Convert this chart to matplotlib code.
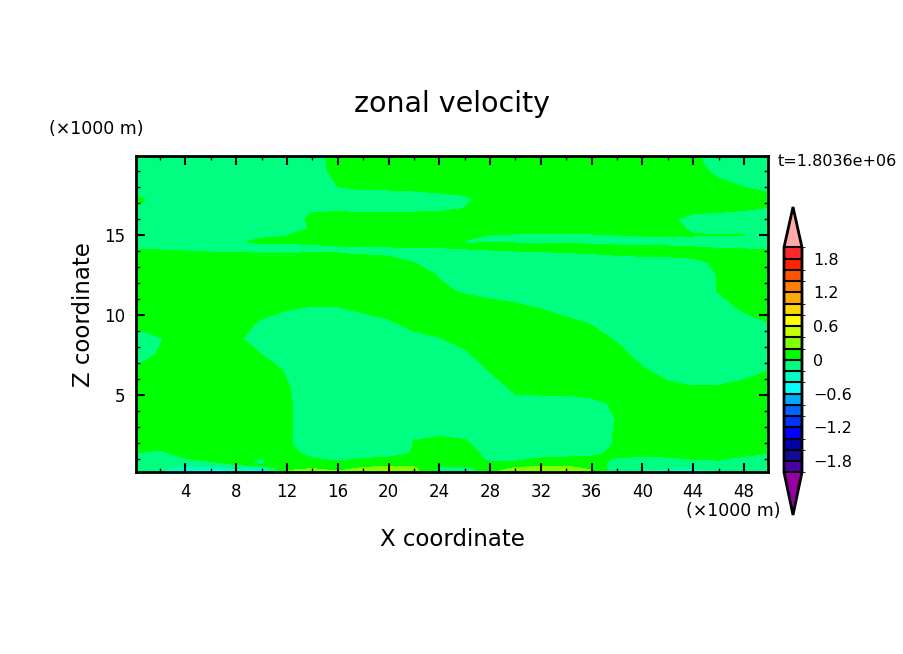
#!/usr/bin/env python3
"""
Zonal velocity cross section, filled contours with a pointed colorbar.
"""

import numpy as np
import matplotlib
matplotlib.use('Agg')
import matplotlib.pyplot as plt
from matplotlib.colors import ListedColormap, BoundaryNorm
from matplotlib.ticker import MultipleLocator

plt.rcParams.update({
    'font.family': ['DejaVu Sans'],
    'font.size': 11,
})

# X coordinate (x1000 m)
x_km = [0, 2, 4, 6, 8, 10, 12, 14, 16, 18, 20, 22, 24,
        26, 28, 30, 32, 34, 36, 38, 40, 42, 44, 46, 48, 50]

# Z coordinate (x1000 m), top to bottom
z_km = [20, 19, 18, 17.2, 16.6,
        16, 15.4, 15, 14.6, 14.2,
        13.8, 13.3, 12.5, 11.5, 10.5,
        9.5, 8.5, 7.5, 6.5, 5.5,
        4.5, 3.5, 2.6, 2.1, 1.7,
        1.3, 1.0, 0.8, 0.6, 0.4,
        0.2]

# Velocity, one list per x column, same order as z_km
u_columns = [
    [-.15, -.15, -.10, .06, -.03, -.12, -.15, -.15, -.09, -.02, .04, .12, .15, .15, .15,
     .05, -.11, -.12, .04, .15, .15, .15, .15, .12, .05, -.01, -.06, -.09, -.12, -.14, -.15],
    [-.15, -.15, -.15, -.08, -.12, -.15, -.15, -.15, -.09, -.02, .04, .12, .15, .15, .15,
     .15, -.02, .03, .15, .15, .15, .15, .15, .09, .02, -.04, -.09, -.12, -.15, -.17, -.18],
    [-.15, -.15, -.15, -.15, -.15, -.15, -.15, -.15, -.10, -.03, .03, .11, .15, .15, .15,
     .15, .15, .15, .15, .15, .15, .15, .15, .15, .10, .04, -.01, -.08, -.19, -.28, -.34],
    [-.15, -.15, -.15, -.15, -.15, -.15, -.15, -.15, -.11, -.04, .02, .10, .15, .15, .15,
     .15, .15, .15, .15, .15, .15, .15, .15, .15, .14, .08, .03, -.01, -.14, -.37, -.62],
    [-.15, -.15, -.15, -.15, -.15, -.15, -.15, -.15, -.02, -.045, .015, .095, .15, .15, .15,
     .15, .05, .15, .15, .15, .15, .15, .15, .15, .15, .12, .07, .04, -.02, -.22, -.45],
    [-.15, -.15, -.15, -.15, -.15, -.15, -.09, -.03, .03, -.05, .01, .09, .15, .15, .13,
     -.05, -.15, .005, .15, .15, .15, .15, .15, .15, .10, .04, -.01, -.03, .01, -.35, -.30],
    [-.15, -.15, -.15, -.15, -.15, -.15, -.15, -.005, .02, -.05, .01, .09, .15, .15, .03,
     -.13, -.15, -.15, -.03, .02, .04, .04, .04, .04, .04, .06, .10, .15, .15, .17, .22],
    [-.15, -.15, -.15, -.15, -.03, .06, .03, .095, .035, -.035, .01, .09, .15, .15, -.01,
     -.15, -.15, -.15, -.15, -.15, -.15, -.15, -.15, -.15, -.10, -.04, .01, .04, .08, .20, .30],
    [.15, .10, -.005, -.12, -.02, .07, .15, .11, .05, -.02, .005, .08, .15, .15, -.005,
     -.15, -.15, -.15, -.15, -.15, -.15, -.15, -.15, -.15, -.13, -.07, -.02, .01, .04, .13, .22],
    [.15, .15, .03, -.10, -.03, .06, .15, .115, .055, -.015, -.005, .075, .15, .15, .06,
     -.10, -.15, -.15, -.15, -.15, -.15, -.15, -.15, -.15, -.11, -.05, .005, .03, .12, .24, .34],
    [.15, .15, .03, -.10, -.03, .06, .15, .12, .06, -.01, -.02, .06, .15, .15, .12,
     -.04, -.15, -.15, -.15, -.15, -.15, -.15, -.15, -.15, -.09, -.03, .02, .05, .17, .32, .45],
    [.15, .15, .04, -.09, -.025, .065, .15, .125, .065, -.005, -.08, -.003, .13, .15, .15,
     .08, -.08, -.15, -.15, -.15, -.15, -.15, -.07, .005, .005, .01, .10, .15, .18, .24, .26],
    [.15, .15, .06, -.07, -.02, .07, .15, .13, .07, -.002, -.06, -.13, -.02, .05, .15,
     .14, -.02, -.15, -.15, -.15, -.15, -.15, -.03, .05, .12, .15, .08, .05, .02, -.02, -.05],
    [.15, .15, .13, -.07, .01, .11, .15, .04, -.005, .01, -.05, -.13, -.15, -.03, .13,
     .15, .10, -.06, -.15, -.15, -.15, -.15, -.06, .02, .09, .13, .08, .05, .02, -.08, -.10],
    [.15, .15, .15, .15, .15, .15, .055, -.005, -.003, .02, -.04, -.12, -.15, -.08, .08,
     .15, .15, .15, .01, -.15, -.15, -.15, -.15, -.15, -.14, -.08, -.03, .002, .03, .10, .15],
    [.15, .15, .15, .15, .15, .15, .05, -.01, -.01, .03, -.03, -.11, -.15, -.12, .04,
     .15, .15, .15, .15, .07, -.09, -.15, -.15, -.15, -.13, -.07, -.02, .01, .12, .24, .32],
    [.15, .15, .15, .15, .15, .15, .045, -.015, -.015, .035, -.025, -.105, -.15, -.15, -.02,
     .14, .15, .15, .15, .08, -.08, -.15, -.15, -.15, -.10, -.04, .01, .04, .17, .30, .42],
    [.15, .15, .15, .15, .15, .15, .045, -.015, -.02, .045, -.015, -.095, -.15, -.15, -.10,
     .06, .15, .15, .15, .08, -.08, -.15, -.15, -.15, -.09, -.03, .02, .05, .17, .30, .42],
    [.15, .15, .15, .15, .15, .15, .05, -.01, -.03, .04, -.005, -.085, -.15, -.15, -.15,
     -.02, .14, .15, .15, .11, -.05, -.15, -.15, -.15, -.08, -.02, .03, .06, .09, .16, .24],
    [.15, .15, .15, .15, .15, .15, .06, -.002, -.04, .03, .01, -.07, -.15, -.15, -.15,
     -.15, -.04, .12, .15, .15, .03, .01, .03, .03, .03, .03, -.01, -.04, -.07, -.11, -.14],
    [.15, .15, .15, .15, .15, .15, .07, .01, -.045, .025, .02, -.06, -.15, -.15, -.15,
     -.15, -.15, -.12, .04, .15, .15, .15, .15, .15, .08, .02, -.03, -.06, -.09, -.16, -.25],
    [.15, .15, .15, .15, .15, .03, .07, .01, -.05, .02, .025, -.055, -.15, -.15, -.15,
     -.15, -.15, -.15, -.10, .06, .15, .15, .15, .15, .09, .03, -.02, -.05, -.08, -.20, -.26],
    [.04, .10, .15, .14, .04, -.05, -.03, .01, -.055, .01, .04, -.04, -.15, -.15, -.15,
     -.15, -.15, -.15, -.15, .01, .15, .15, .15, .15, .11, .05, .002, -.03, -.07, -.20, -.24],
    [-.15, -.07, .09, .15, .03, -.07, -.06, .002, -.07, -.005, .05, .03, .01, .01, -.10,
     -.15, -.15, -.15, -.15, .02, .15, .15, .15, .15, .12, .06, .01, -.02, -.06, -.18, -.22],
    [-.15, -.15, -.002, .11, .01, -.08, -.07, .001, -.07, -.01, .05, .13, .15, .15, .05,
     -.11, -.15, -.15, -.09, .07, .15, .15, .15, .15, .08, .02, -.03, -.06, -.09, -.13, -.16],
    [-.15, -.15, -.06, .07, -.02, -.11, -.15, -.06, -.09, -.02, .04, .12, .15, .15, .15,
     .002, -.15, -.15, .01, .15, .15, .15, .15, .12, .05, -.01, -.06, -.09, -.12, -.16, -.19],
]

# Contour levels and the colors of the bands between them, bottom to top
levels = [-2.0, -1.8, -1.6, -1.4, -1.2, -1.0, -0.8, -0.6, -0.4, -0.2, 0.0,
          0.2, 0.4, 0.6, 0.8, 1.0, 1.2, 1.4, 1.6, 1.8, 2.0]
band_colors = ['#4b00a0', '#140a96', '#0000aa', '#0000ff', '#0032ff',
               '#0064ff', '#00aaff', '#00ffff', '#00ffc8', '#00ff80',
               '#00ff00', '#80ff00', '#c8ff00', '#ffff00', '#ffd700',
               '#ffaa00', '#ff7d00', '#ff5500', '#ff2300', '#ff2828']
under_color = '#9600a0'
over_color = '#ffaaaa'

x_ticks = [4, 8, 12, 16, 20, 24, 28, 32, 36, 40, 44, 48]
z_ticks = [5, 10, 15]
cbar_ticks = [-1.8, -1.2, -0.6, 0, 0.6, 1.2, 1.8]
cbar_labels = ['\u22121.8', '\u22121.2', '\u22120.6', '0', '0.6', '1.2', '1.8']


def plot_zonal_velocity():
    u = np.array(u_columns).T

    cmap = ListedColormap(band_colors)
    cmap.set_under(under_color)
    cmap.set_over(over_color)
    norm = BoundaryNorm(levels, cmap.N)

    fig = plt.figure(figsize=(9.04, 6.54), dpi=100)
    ax = fig.add_axes([136 / 904, 1 - 472 / 654, 632 / 904, 316 / 654])

    cf = ax.contourf(x_km, z_km, u, levels=levels, cmap=cmap, norm=norm,
                     extend='both', antialiased=False)

    ax.set_xlim(0.1, 49.9)
    ax.set_ylim(0.19, 19.94)
    ax.set_xticks(x_ticks)
    ax.set_yticks(z_ticks)
    ax.xaxis.set_minor_locator(MultipleLocator(2))
    ax.yaxis.set_minor_locator(MultipleLocator(1))
    ax.tick_params(which='major', direction='in', top=True, right=True,
                   length=6.5, width=1.5, labelsize=12, pad=8)
    ax.tick_params(which='minor', direction='in', top=True, right=True,
                   length=3, width=1)
    for spine in ax.spines.values():
        spine.set_linewidth(2)

    # Colorbar with pointed ends, the axes box includes both points
    cax = fig.add_axes([784 / 904, 1 - 515 / 654, 18 / 904, 308 / 654])
    cb = fig.colorbar(cf, cax=cax, extend='both', extendfrac=(0.19, 0.18),
                      drawedges=True, ticks=cbar_ticks)
    cb.ax.set_yticklabels(cbar_labels)
    cb.ax.tick_params(length=0, labelsize=11.5, pad=8)
    cb.outline.set_linewidth(2)
    cb.dividers.set_linewidth(1.5)

    fig.text(452 / 904, 1 - 104 / 654, 'zonal velocity', fontsize=20.5,
             ha='center', va='center')
    fig.text(452 / 904, 1 - 540 / 654, 'X coordinate', fontsize=16.5,
             ha='center', va='center')
    fig.text(83 / 904, 1 - 315 / 654, 'Z coordinate', fontsize=16.5,
             rotation=90, ha='center', va='center')
    fig.text(96 / 904, 1 - 129 / 654, '(\u00d71000 m)', fontsize=12.5,
             ha='center', va='center')
    fig.text(733 / 904, 1 - 511 / 654, '(\u00d71000 m)', fontsize=12.5,
             ha='center', va='center')
    fig.text(778 / 904, 1 - 161 / 654, 't=1.8036e+06', fontsize=11.5,
             ha='left', va='center')

    fig.savefig('out.png', dpi=100)
    plt.close(fig)


if __name__ == '__main__':
    plot_zonal_velocity()
